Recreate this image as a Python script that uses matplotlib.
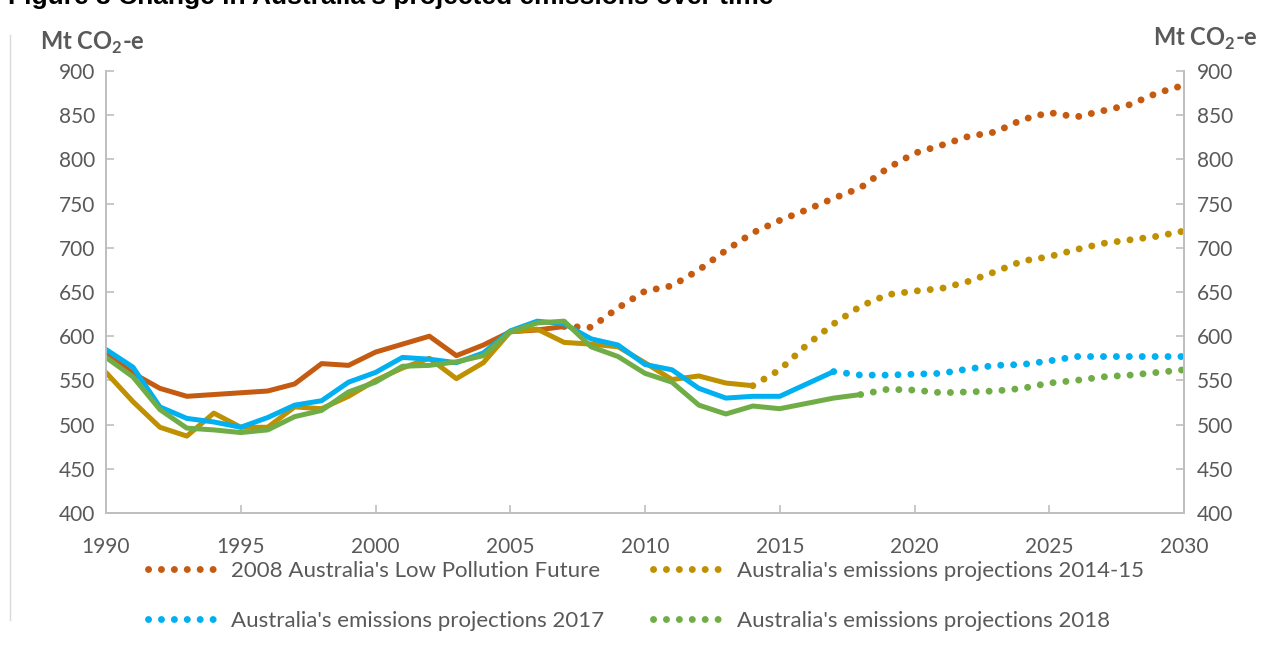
from matplotlib import pyplot as plt
import numpy as np

plt.rcParams['font.family'] = ['Lato', 'DejaVu Sans']
plt.rcParams['mathtext.fontset'] = 'custom'
plt.rcParams['mathtext.rm'] = 'Lato'
plt.rcParams['mathtext.bf'] = 'Lato:bold'

# ---------------------------------------------------------------- data
years = np.arange(1990, 2031)

# 2008 Australia's Low Pollution Future (historical to 2007, then projection)
lpf = [581, 558, 541, 532, 534, 536, 538, 546, 569, 567, 582, 591, 600, 578,
       590, 605, 607, 611, 610, 632, 651, 657, 675, 697, 717, 731, 743, 756,
       768, 790, 807, 816, 826, 831, 845, 853, 848, 855, 862, 875, 884]
lpf_last_hist = 2007

# Australia's emissions projections 2014-15
p2014 = [559, 526, 497, 487, 513, 497, 497, 520, 518, 532, 550, 564, 575, 552,
         570, 605, 608, 593, 591, 588, 570, 551, 555, 547, 544, 562, 590, 614,
         634, 647, 651, 654, 662, 673, 685, 690, 698, 705, 709, 713, 719]
p2014_last_hist = 2014

# Australia's emissions projections 2017
p2017 = [585, 565, 520, 507, 503, 497, 508, 522, 527, 548, 559, 576, 574, 570,
         581, 606, 617, 614, 597, 590, 568, 562, 541, 530, 532, 532, 546, 560,
         556, 556, 557, 558, 563, 567, 568, 572, 577, 577, 577, 577, 577]
p2017_last_hist = 2017

# Australia's emissions projections 2018
p2018 = [576, 554, 517, 496, 494, 491, 494, 509, 516, 537, 548, 566, 567, 571,
         578, 605, 615, 617, 588, 577, 558, 548, 522, 512, 521, 518, 524, 530,
         534, 540, 539, 536, 537, 538, 541, 547, 550, 554, 556, 559, 562]
p2018_last_hist = 2018

series = [
    ("2008 Australia's Low Pollution Future", lpf, lpf_last_hist, '#C55A11'),
    ("Australia's emissions projections 2014-15", p2014, p2014_last_hist, '#BF9000'),
    ("Australia's emissions projections 2017", p2017, p2017_last_hist, '#00B0F0'),
    ("Australia's emissions projections 2018", p2018, p2018_last_hist, '#70AD47'),
]

GREY = '#BFBFBF'
TXT = '#595959'

# ---------------------------------------------------------------- figure
fig = plt.figure(figsize=(12.72, 6.46), dpi=100)
W, H = 1272, 646
ax = fig.add_axes([106 / W, 1 - 513 / H, (1184 - 106) / W, (513 - 71) / H])
ax2 = ax.twinx()

handles = []
for label, vals, last, col in series:
    vals = np.array(vals)
    k = np.searchsorted(years, last)
    ax.plot(years[:k + 1], vals[:k + 1], color=col, lw=3.6,
            solid_capstyle='round', solid_joinstyle='round', zorder=3)
    h, = ax.plot(years[k:], vals[k:], color=col, lw=5.0,
                 linestyle=(0, (0.01, 1.85)), dash_capstyle='round',
                 zorder=3, label=label)
    handles.append(h)

ax.set_xlim(1990, 2030)
ax.set_ylim(400, 900)
ax2.set_ylim(400, 900)
ax.set_xticks(np.arange(1990, 2031, 5))
ax.set_yticks(np.arange(400, 901, 50))
ax2.set_yticks(np.arange(400, 901, 50))

for a in (ax, ax2):
    for s in a.spines.values():
        s.set_color(GREY)
        s.set_linewidth(1.3)
    a.spines['top'].set_visible(False)
ax.tick_params(axis='both', direction='in', length=6, width=1.2, color=GREY,
               labelcolor=TXT, labelsize=15)
ax.tick_params(axis='x', pad=17)
ax.tick_params(axis='y', pad=8)
ax2.tick_params(axis='y', direction='in', length=6, width=1.2, color=GREY,
                labelcolor=TXT, labelsize=15, pad=9)

# axis unit labels
fig.text(40 / W, 1 - 43 / H, r'Mt CO$_\mathbf{2}$-e', fontsize=17,
         fontweight='bold', color=TXT, ha='left', va='center')
fig.text(1258 / W, 1 - 39 / H, r'Mt CO$_\mathbf{2}$-e', fontsize=17,
         fontweight='bold', color=TXT, ha='right', va='center')

# cropped title at the very top
fig.text(8 / W, 1 - 4 / H,
         "Figure 3 Change in Australia's projected emissions over time",
         fontsize=19, fontweight='bold', family='Liberation Sans',
         ha='left', va='baseline', color='black')

# thin frame line at left
fig.add_artist(plt.Line2D([10 / W, 10 / W], [1 - 35 / H, 1 - 620 / H],
                          color='#D9D9D9', lw=1))

order = [0, 2, 1, 3]
leg = fig.legend([handles[i] for i in order],
                 [series[i][0] for i in order],
                 ncol=2, loc='upper left',
                 bbox_to_anchor=(148 / W, 1 - 561 / H),
                 frameon=False, fontsize=16, handlelength=3.3,
                 handletextpad=0.45, columnspacing=2.2, labelspacing=1.35,
                 borderpad=0, borderaxespad=0)
for t in leg.get_texts():
    t.set_color(TXT)

fig.savefig('out.png', dpi=100)
